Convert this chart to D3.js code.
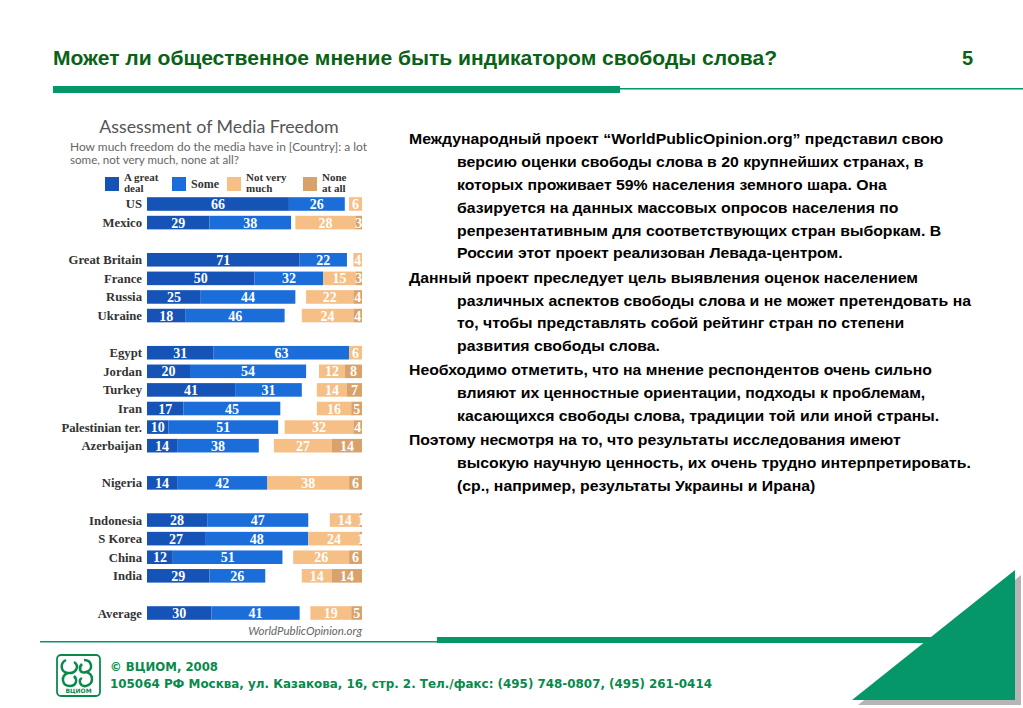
<!DOCTYPE html>
<html>
<head>
<meta charset="utf-8">
<script src="https://cdn.jsdelivr.net/npm/d3@7"></script>
<style>
  body { margin: 0; background: #fff; }
  svg { display: block; }
</style>
</head>
<body>
<svg id="slide" width="1023" height="708"></svg>
<script>
// chart data
const countries = ["US", "Mexico", "gap1", "Great Britain", "France", "Russia", "Ukraine", "gap2",
  "Egypt", "Jordan", "Turkey", "Iran", "Palestinian ter.", "Azerbaijan", "gap3",
  "Nigeria", "gap4", "Indonesia", "S Korea", "China", "India", "gap5", "Average"];
const greatDeal = [66, 29, null, 71, 50, 25, 18, null, 31, 20, 41, 17, 10, 14, null, 14, null, 28, 27, 12, 29, null, 30];
const some      = [26, 38, null, 22, 32, 44, 46, null, 63, 54, 31, 45, 51, 38, null, 42, null, 47, 48, 51, 26, null, 41];
const notVery   = [6, 28, null, 4, 15, 22, 24, null, 6, 12, 14, 16, 32, 27, null, 38, null, 14, 24, 26, 14, null, 19];
const noneAtAll = [0, 3, null, 0, 3, 4, 4, null, 0, 8, 7, 5, 4, 14, null, 6, null, 1, 1, 6, 14, null, 5];

const legendKeys = [["A great", "deal"], ["Some"], ["Not very", "much"], ["None", "at all"]];
const colors = ["#1553b6", "#1b6dd9", "#f6bf86", "#d9a26b"];

const bodyParas = [
  ["Международный проект “WorldPublicOpinion.org” представил свою",
   "версию оценки свободы слова в 20 крупнейших странах, в",
   "которых проживает 59% населения земного шара. Она",
   "базируется на данных массовых опросов населения по",
   "репрезентативным для соответствующих стран выборкам. В",
   "России этот проект реализован Левада-центром."],
  ["Данный проект преследует цель выявления оценок населением",
   "различных аспектов свободы слова и не может претендовать на",
   "то, чтобы представлять собой рейтинг стран по степени",
   "развития свободы слова."],
  ["Необходимо отметить, что на мнение респондентов очень сильно",
   "влияют их ценностные ориентации, подходы к проблемам,",
   "касающихся свободы слова, традиции той или иной страны."],
  ["Поэтому несмотря на то, что результаты исследования имеют",
   "высокую научную ценность, их очень трудно интерпретировать.",
   "(ср., например, результаты Украины и Ирана)"]
];

const svg = d3.select("#slide");
const green = "#059669";

// header
svg.append("text").attr("x", 53).attr("y", 65)
  .attr("font-family", "Liberation Sans, Arial, sans-serif").attr("font-weight", "bold")
  .attr("font-size", 20.5).attr("fill", "#0a6216")
  .attr("textLength", 724).attr("lengthAdjust", "spacingAndGlyphs")
  .text("Может ли общественное мнение быть индикатором свободы слова?");
svg.append("text").attr("x", 962).attr("y", 65)
  .attr("font-family", "Liberation Sans, Arial, sans-serif").attr("font-weight", "bold")
  .attr("font-size", 20).attr("fill", "#0a6216").text("5");
svg.append("rect").attr("x", 53).attr("y", 86).attr("width", 567).attr("height", 7).attr("fill", green);
svg.append("rect").attr("x", 620).attr("y", 88).attr("width", 403).attr("height", 1.5).attr("fill", green);

// chart
const chart = svg.append("g");
const x = d3.scaleLinear().domain([0, 100]).range([147, 362]);
const y = d3.scaleBand().domain(countries).range([194.7, 622.3]).paddingInner(0.27).paddingOuter(0.135);

chart.append("text").attr("x", 219).attr("y", 133).attr("text-anchor", "middle")
  .attr("font-family", "Lato, sans-serif").attr("font-size", 17.8).attr("fill", "#555")
  .text("Assessment of Media Freedom");
chart.append("text").attr("x", 70).attr("y", 151)
  .attr("font-family", "Lato, sans-serif").attr("font-size", 11.6).attr("fill", "#666")
  .attr("textLength", 297).attr("lengthAdjust", "spacingAndGlyphs")
  .text("How much freedom do the media have in [Country]: a lot");
chart.append("text").attr("x", 70).attr("y", 164)
  .attr("font-family", "Lato, sans-serif").attr("font-size", 11.6).attr("fill", "#666")
  .text("some, not very much, none at all?");

const legendX = [105, 172, 227, 303];
legendKeys.forEach((k, i) => {
  chart.append("rect").attr("x", legendX[i]).attr("y", 177).attr("width", 14).attr("height", 14).attr("fill", colors[i]);
  const t = chart.append("text").attr("x", legendX[i] + 19).attr("y", k.length > 1 ? 181 : 188)
    .attr("font-family", "Liberation Serif, serif").attr("font-weight", "bold")
    .attr("font-size", k.length > 1 ? 11 : 12).attr("fill", "#333");
  k.forEach((line, j) => t.append("tspan").attr("x", legendX[i] + 19).attr("dy", j ? 10.5 : 0).text(line));
});

const rows = countries.map((c, i) => ({
  name: c, vals: [greatDeal[i], some[i], notVery[i], noneAtAll[i]]
})).filter(d => d.vals[0] !== null);

rows.forEach(d => {
  const [a, b, c, n] = d.vals;
  const segs = [
    { v: a, x0: 0, x1: a, col: 0 },
    { v: b, x0: a, x1: a + b, col: 1 },
    { v: c, x0: 100 - c - n, x1: 100 - n, col: 2 },
    { v: n, x0: 100 - n, x1: 100, col: 3 }
  ].filter(s => s.v > 0);
  const g = chart.append("g");
  g.selectAll("rect").data(segs).enter().append("rect")
    .attr("x", s => x(s.x0)).attr("y", y(d.name))
    .attr("width", s => x(s.x1) - x(s.x0)).attr("height", y.bandwidth())
    .attr("fill", s => colors[s.col]);
  g.selectAll("text").data(segs).enter().append("text")
    .attr("x", s => (x(s.x0) + x(s.x1)) / 2).attr("y", y(d.name) + y.bandwidth() / 2 + 5)
    .attr("text-anchor", "middle")
    .attr("font-family", "Liberation Serif, serif").attr("font-weight", "bold")
    .attr("font-size", 14).attr("fill", "#fff")
    .text(s => s.v);
  chart.append("text").attr("x", 142).attr("y", y(d.name) + y.bandwidth() / 2 + 4.5)
    .attr("text-anchor", "end")
    .attr("font-family", "Liberation Serif, serif").attr("font-weight", "bold")
    .attr("font-size", 12.7).attr("fill", "#333")
    .text(d.name);
});

chart.append("text").attr("x", 362).attr("y", 635).attr("text-anchor", "end")
  .attr("font-family", "Lato, sans-serif").attr("font-style", "italic")
  .attr("font-size", 11.5).attr("fill", "#666").text("WorldPublicOpinion.org");

// body text, stretched a little wider like the slide
const sx = 1.13;
const body = svg.append("g").attr("transform", `scale(${sx},1)`)
  .attr("font-family", "Liberation Sans, Arial, sans-serif")
  .attr("font-weight", "bold").attr("font-size", 14).attr("fill", "#000");
let ly = 144.5;
bodyParas.forEach(p => {
  p.forEach((line, j) => {
    body.append("text").attr("x", (j ? 457 : 409) / sx).attr("y", ly).text(line);
    ly += 22.8;
  });
  ly += 1.5;
});

// footer
svg.append("rect").attr("x", 40).attr("y", 641).attr("width", 397).attr("height", 1.5).attr("fill", green);
svg.append("rect").attr("x", 437).attr("y", 637).attr("width", 500).attr("height", 6).attr("fill", green);
svg.append("path").attr("d", "M858,705 L1021,575 L1021,705 Z").attr("fill", "#b5b5b5");
svg.append("path").attr("d", "M852,700 L1015,570 L1015,700 Z").attr("fill", green);

const logo = svg.append("g").attr("fill", "none").attr("stroke", "#0a8a4a");
logo.append("rect").attr("x", 57).attr("y", 655).attr("width", 43).attr("height", 41).attr("rx", 4).attr("stroke-width", 1.8);
logo.append("path").attr("stroke-width", 2.5)
  .attr("d", "M66,660 C60,663 60,672 68,673 C76,674 80,666 74,662 M68,673 C60,676 62,686 70,686 C76,686 78,680 74,676 M84,660 C92,660 94,670 86,672 C80,674 78,668 82,664 M86,672 C94,674 94,684 86,686 C80,687 78,680 82,678");
svg.append("text").attr("x", 78.5).attr("y", 693).attr("text-anchor", "middle")
  .attr("font-family", "DejaVu Sans, sans-serif").attr("font-weight", "bold").attr("font-size", 6)
  .attr("fill", "#0a8a4a").text("ВЦИОМ");

svg.append("text").attr("x", 110).attr("y", 671)
  .attr("font-family", "DejaVu Sans, sans-serif").attr("font-weight", "bold")
  .attr("font-size", 12).attr("fill", "#078a4c")
  .attr("textLength", 108).attr("lengthAdjust", "spacingAndGlyphs")
  .text("© ВЦИОМ, 2008");
svg.append("text").attr("x", 110).attr("y", 688)
  .attr("font-family", "DejaVu Sans, sans-serif").attr("font-weight", "bold")
  .attr("font-size", 12).attr("fill", "#078a4c")
  .attr("textLength", 602).attr("lengthAdjust", "spacingAndGlyphs")
  .text("105064 РФ Москва, ул. Казакова, 16, стр. 2.  Тел./факс: (495) 748-0807, (495) 261-0414");
</script>
</body>
</html>
